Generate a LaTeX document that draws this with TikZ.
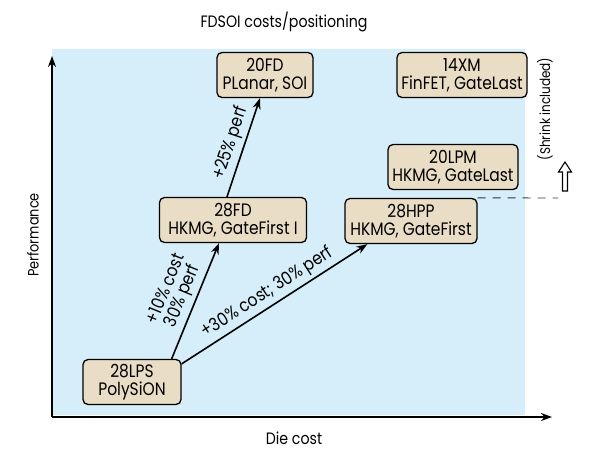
\documentclass[tikz,border=0pt]{standalone}
\usepackage{fontspec}
\setmainfont[FakeStretch=0.86, Ligatures=NoCommon]{Poppins}
\usetikzlibrary{arrows.meta,positioning,calc}
\definecolor{plotbg}{HTML}{D5EEF9}
\definecolor{boxfill}{HTML}{E9DDC5}

\begin{document}
\begin{tikzpicture}[x=1pt, y=-1pt,
    every node/.style={font=\fontsize{18}{18}\selectfont},
    axislabel/.style={font=\fontsize{16.5}{18}\selectfont},
    proc/.style={draw, line width=1.3pt, fill=boxfill, rounded corners=5pt,
                 align=center, minimum height=45pt, inner xsep=2pt, inner ysep=2pt},
    flow/.style={-{Stealth[length=11pt,width=8pt]}, line width=1.6pt}]
    \useasboundingbox (0,0) rectangle (595,459);

    % Plot area
    \fill[plotbg] (52,49) rectangle (525,415);
    \coordinate (origin) at (52,417);
    \coordinate (xend) at (552,417);
    \coordinate (yend) at (52,56);
    \draw[flow, line width=1.8pt] (origin) -- (xend);
    \draw[flow, line width=1.8pt] (origin) -- (yend);

    % Titles
    \node[axislabel] (title) at (284,22) {FDSOI costs/positioning};
    \node[axislabel] (xlabel) at (294,438) {Die cost};
    \node[axislabel, rotate=90, font=\fontsize{15}{18}\selectfont] (ylabel) at (33,235) {Performance};

    % Process nodes
    \node[proc, minimum width=96pt]  (fd20)  at (265,75)  {20FD\\PLanar, SOI};
    \node[proc, minimum width=130pt] (xm14)  at (462,75)  {14XM\\FinFET, GateLast};
    \node[proc, minimum width=130pt] (lpm20) at (453,167) {20LPM\\HKMG, GateLast};
    \node[proc, minimum width=147pt] (fd28)  at (233,220) {28FD\\HKMG, GateFirst I};
    \node[proc, minimum width=132pt] (hpp28) at (411,221) {28HPP\\HKMG, GateFirst};
    \node[proc, minimum width=98pt]  (lps28) at (132,382) {28LPS\\PolySiON};

    % Transitions
    \draw[flow] ([xshift=-10pt]lps28.north east) -- ([xshift=-14pt]fd28.south)
        node[midway, sloped, above, align=center] {+10\% cost\\30\% perf};
    \draw[flow] ([yshift=-5pt]lps28.north east) -- ([xshift=23pt]hpp28.south west)
        node[midway, sloped, above] {+30\% cost; 30\% perf};
    \draw[flow] ([xshift=-6pt]fd28.north) -- ([xshift=-5pt]fd20.south)
        node[midway, sloped, above] {+25\% perf};

    % Shrink marker
    \coordinate (shrinkend) at (558,198);
    \draw[dashed, dash pattern=on 8pt off 7pt, line width=0.9pt, black!80] (hpp28.north east) -- (shrinkend);
    \node[rotate=90, font=\fontsize{14}{16}\selectfont] (shrink) at (545,109) {(Shrink included)};
    \draw[line width=1.1pt, fill=white]
        (562.5,191) -- (562.5,172) -- (558.5,172) -- (565,162) -- (571.5,172)
        -- (567.5,172) -- (567.5,191) -- cycle;
\end{tikzpicture}
\end{document}
